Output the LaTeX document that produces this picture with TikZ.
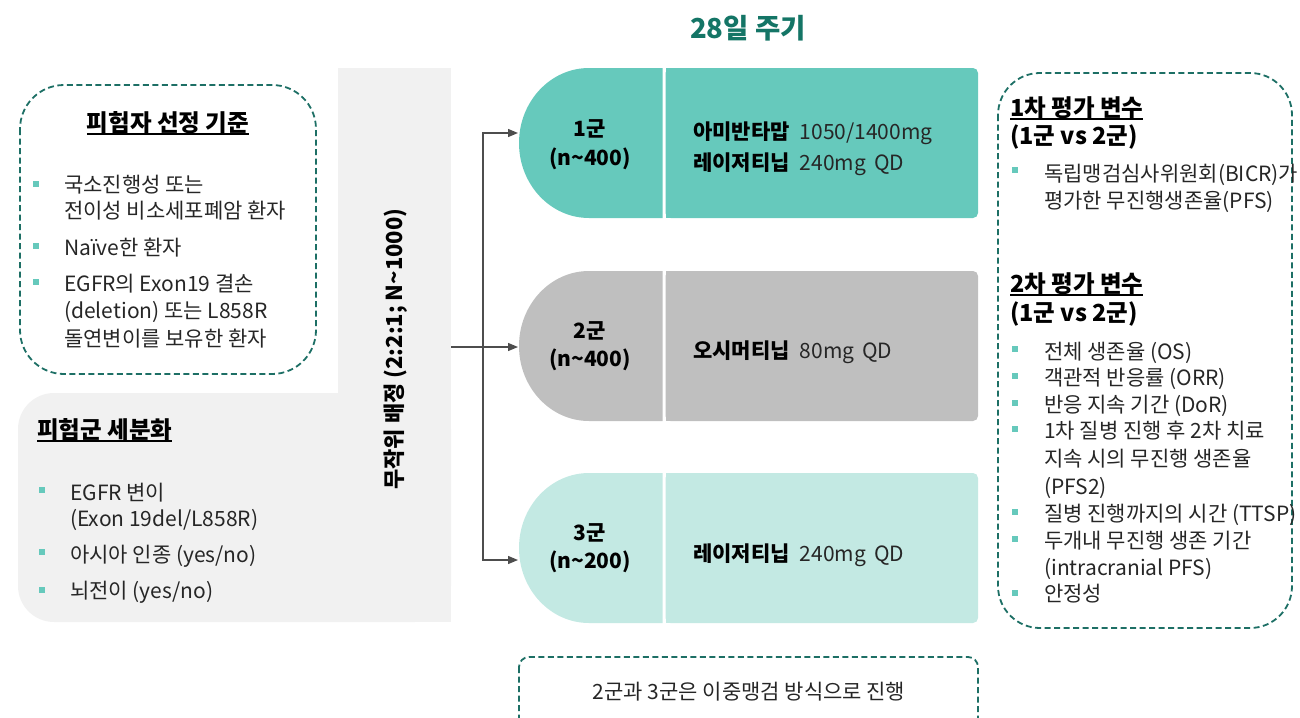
\documentclass[tikz,border=0pt]{standalone}
\usepackage{fontspec}
\setmainfont{Noto Sans CJK KR}
\usetikzlibrary{arrows.meta}
\definecolor{armA}{HTML}{66C9BC}
\definecolor{armB}{HTML}{BFBFBF}
\definecolor{armC}{HTML}{C3E9E3}
\definecolor{dashc}{HTML}{1D6F65}
\definecolor{titlec}{HTML}{147566}
\definecolor{panelc}{HTML}{F1F1F1}
\definecolor{bulc}{HTML}{66C9BC}
\definecolor{txtc}{HTML}{262626}
\definecolor{linec}{HTML}{4D4D4D}
\newcommand{\myul}[1]{\setbox0\hbox{#1}\rlap{\rule[-3.8pt]{\wd0}{1.6pt}}\box0}
\newcommand{\tld}{\textasciitilde}
\begin{document}
\begin{tikzpicture}[x=1pt,y=-1pt,
  txt/.style={anchor=base west, inner sep=0pt, text=txtc, font=\fontsize{21}{24}\selectfont},
  btxt/.style={anchor=base west, inner sep=0pt, text=black, font=\fontsize{21}{24}\selectfont\bfseries},
  head/.style={anchor=base west, inner sep=0pt, text=black, font=\fontsize{23.5}{26}\selectfont\bfseries},
  bul/.style={rectangle, fill=bulc, minimum size=6.5pt, inner sep=0pt},
  dbox/.style={draw=dashc, line width=1.8pt, dash pattern=on 6pt off 3.5pt},
  arr/.style={draw=linec, line width=1.3pt, -{Triangle[length=10pt,width=8pt]}}
]
\useasboundingbox (0,0) rectangle (1300,717);
\clip (0,0) rectangle (1300,717);

% title
\node[anchor=base, inner sep=0pt, text=titlec, font=\fontsize{27.5}{30}\selectfont\bfseries] (title) at (748,38) {28일 주기};

% gray panel
\fill[panelc] (338,68) rectangle (451,622);
\fill[panelc, rounded corners=36pt] (18,393) rectangle (451,622);
\fill[panelc] (400,393) rectangle (451,622);

% left dashed box
\draw[dbox, rounded corners=44pt] (20,85) rectangle (316,374);
\node[head, anchor=base] (selT) at (168,131) {\myul{피험자 선정 기준}};
\node[bul] (sb1) at (36,184) {};
\node[txt] (s1a) at (64,192) {국소진행성 또는};
\node[txt] (s1b) at (64,218) {전이성 비소세포폐암 환자};
\node[bul] (sb2) at (36,246) {};
\node[txt] (s2a) at (64,255) {Naïve한 환자};
\node[bul] (sb3) at (36,282) {};
\node[txt] (s3a) at (64,291) {EGFR의 Exon19 결손};
\node[txt] (s3b) at (64,318) {(deletion) 또는 L858R};
\node[txt] (s3c) at (64,346) {돌연변이를 보유한 환자};

% lower box text
\node[head] (subT) at (37,438) {\myul{피험군 세분화}};
\node[bul] (ub1) at (42,490) {};
\node[txt] (u1a) at (70,500) {EGFR 변이};
\node[txt] (u1b) at (70,526) {(Exon 19del/L858R)};
\node[bul] (ub2) at (42,552) {};
\node[txt] (u2a) at (70,562) {아시아 인종 (yes/no)};
\node[bul] (ub3) at (42,590) {};
\node[txt] (u3a) at (70,598) {뇌전이 (yes/no)};

% vertical label
\node[rotate=90, inner sep=0pt, text=black, font=\fontsize{22}{24}\selectfont\bfseries] (rand) at (396,349) {무작위 배정 (2:2:1; N\tld1000)};

% arms
\fill[armA] (662.5,68) -- (589,68) arc[start angle=270,end angle=90,x radius=70,y radius=75] -- (662.5,218) -- cycle;
\fill[armA, rounded corners=5pt] (665.5,68) rectangle (978,218);
\fill[armA] (665.5,68) rectangle (700,218);
\fill[armB] (662.5,271) -- (589,271) arc[start angle=270,end angle=90,x radius=70,y radius=75] -- (662.5,421) -- cycle;
\fill[armB, rounded corners=5pt] (665.5,271) rectangle (978,421);
\fill[armB] (665.5,271) rectangle (700,421);
\fill[armC] (662.5,473) -- (589,473) arc[start angle=270,end angle=90,x radius=70,y radius=75] -- (662.5,623) -- cycle;
\fill[armC, rounded corners=5pt] (665.5,473) rectangle (978,623);
\fill[armC] (665.5,473) rectangle (700,623);

\node[btxt, anchor=base] (g1) at (590,136) {1군};
\node[btxt, anchor=base] (n1) at (590,165) {(n\tld400)};
\node[btxt] (d1a) at (693,139) {아미반타맙\hspace{10pt}\mdseries\color{txtc}1050/1400mg};
\node[btxt] (d1b) at (693,170) {레이저티닙\hspace{10pt}\mdseries\color{txtc}240mg\hspace{8pt}QD};

\node[btxt, anchor=base] (g2) at (590,338) {2군};
\node[btxt, anchor=base] (n2) at (590,366) {(n\tld400)};
\node[btxt] (d2a) at (693,358) {오시머티닙\hspace{10pt}\mdseries\color{txtc}80mg\hspace{8pt}QD};

\node[btxt, anchor=base] (g3) at (590,540) {3군};
\node[btxt, anchor=base] (n3) at (590,568) {(n\tld200)};
\node[btxt] (d3a) at (693,561) {레이저티닙\hspace{10pt}\mdseries\color{txtc}240mg\hspace{8pt}QD};

% connectors
\coordinate (src) at (451,347);
\coordinate (split) at (483,347);
\coordinate (a1) at (518,133);
\coordinate (a2) at (518,347);
\coordinate (a3) at (518,560);
\draw[arr] (src) -- (a2);
\draw[arr] (split) |- (a1);
\draw[arr] (split) |- (a3);

% right dashed box
\draw[dbox, rounded corners=42pt] (998,73) rectangle (1292,628);
\node[head] (p1) at (1010,116) {\myul{1차 평가 변수}};
\node[head] (p1b) at (1010,144) {(1군 vs 2군)};
\node[bul] (pb1) at (1015,170) {};
\node[txt] (p1c) at (1044,181) {독립맹검심사위원회(BICR)가};
\node[txt] (p1d) at (1044,208) {평가한 무진행생존율(PFS)};

\node[head] (p2) at (1010,292) {\myul{2차 평가 변수}};
\node[head] (p2b) at (1010,321) {(1군 vs 2군)};
\node[bul] (qb1) at (1015,349) {};
\node[txt] (q1) at (1044,359) {전체 생존율 (OS)};
\node[bul] (qb2) at (1015,376) {};
\node[txt] (q2) at (1044,385) {객관적 반응률 (ORR)};
\node[bul] (qb3) at (1015,403) {};
\node[txt] (q3) at (1044,412) {반응 지속 기간 (DoR)};
\node[bul] (qb4) at (1015,429) {};
\node[txt] (q4a) at (1044,438) {1차 질병 진행 후 2차 치료};
\node[txt] (q4b) at (1044,466) {지속 시의 무진행 생존율};
\node[txt] (q4c) at (1044,494) {(PFS2)};
\node[bul] (qb5) at (1015,512) {};
\node[txt] (q5) at (1044,521) {질병 진행까지의 시간 (TTSP)};
\node[bul] (qb6) at (1015,539) {};
\node[txt] (q6a) at (1044,548) {두개내 무진행 생존 기간};
\node[txt] (q6b) at (1044,575) {(intracranial PFS)};
\node[bul] (qb7) at (1015,593) {};
\node[txt] (q7) at (1044,601) {안정성};

% bottom dashed box
\draw[dbox, rounded corners=10pt] (519,657) rectangle (978,740);
\node[txt, anchor=base] (note) at (749,699) {2군과 3군은 이중맹검 방식으로 진행};
\end{tikzpicture}
\end{document}
